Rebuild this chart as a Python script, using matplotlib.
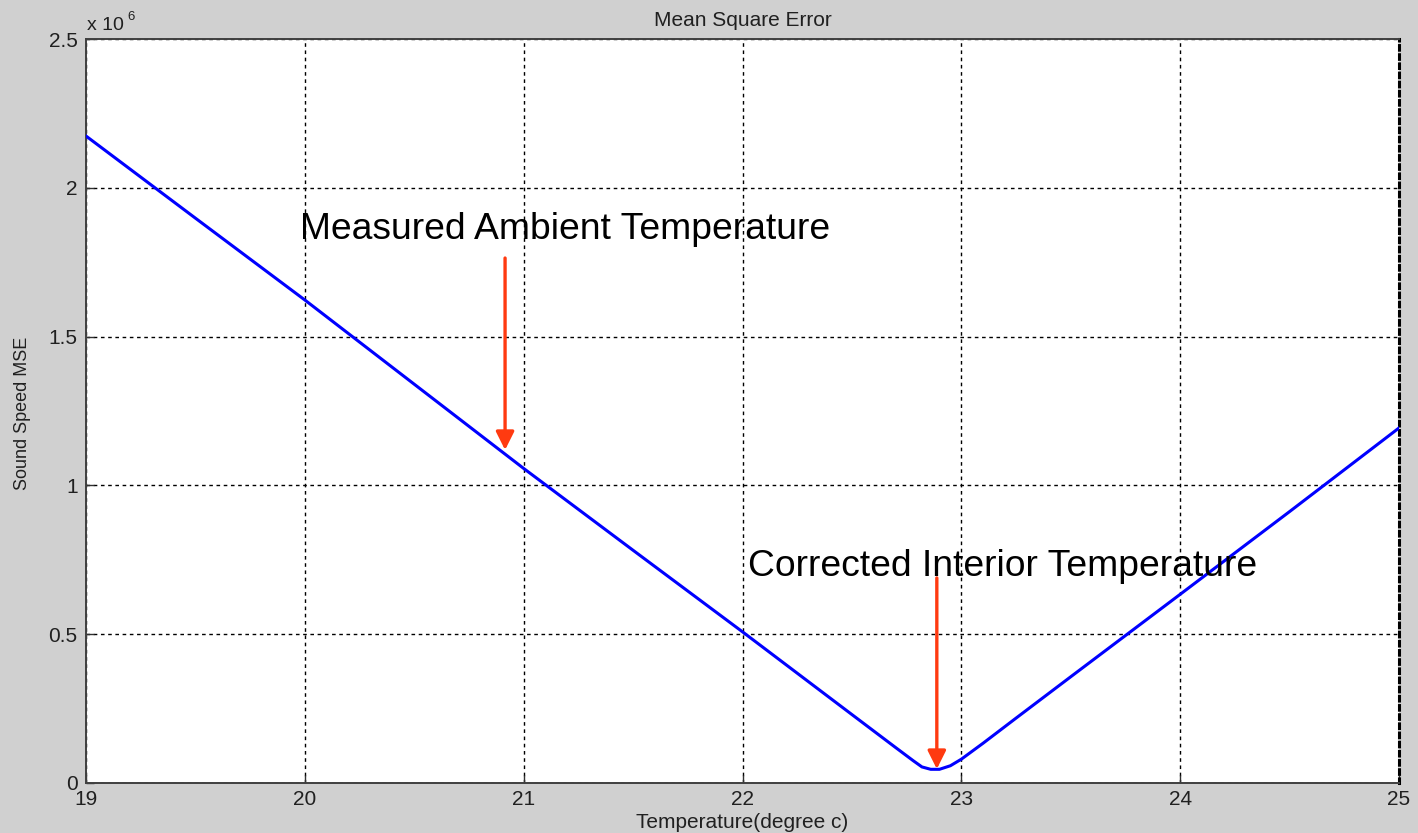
import matplotlib
matplotlib.use("Agg")
import matplotlib.pyplot as plt
from matplotlib.ticker import FuncFormatter

# ---- data ----
temperature = [19.0, 19.5, 20.0, 20.5, 21.0, 21.5, 22.0, 22.5, 22.7, 22.78,
               22.82, 22.86, 22.9, 22.95, 23.0, 23.1, 23.25, 23.5, 24.0, 24.5, 25.0]
mse = [2.174e6, 1.898e6, 1.623e6, 1.340e6, 1.057e6, 0.782e6, 0.508e6, 0.230e6,
       0.119e6, 0.075e6, 0.054e6, 0.046e6, 0.046e6, 0.058e6, 0.080e6, 0.134e6,
       0.218e6, 0.357e6, 0.634e6, 0.912e6, 1.193e6]

x_ticks = [19, 20, 21, 22, 23, 24, 25]
y_ticks = [0, 0.5e6, 1.0e6, 1.5e6, 2.0e6, 2.5e6]

title_text = "Mean Square Error"
xlabel_text = "Temperature(degree c)"
ylabel_text = "Sound Speed MSE"

ann_labels = ["Measured Ambient Temperature", "Corrected Interior Temperature"]
ann_text_pos = [(19.978, 1.828e6), (22.026, 0.697e6)]
arrow_tail = [(20.915, 1.764e6), (22.888, 0.689e6)]
arrow_tip = [(20.915, 1.119e6), (22.888, 0.047e6)]

# ---- figure ----
plt.rcParams['font.family'] = ['Liberation Sans', 'DejaVu Sans']
W, H = 1418, 833
fig = plt.figure(figsize=(W / 100, H / 100), dpi=100)
fig.patch.set_facecolor('#d0d0d0')

L, R, T, B = 86, 1399, 39, 783
ax = fig.add_axes([L / W, 1 - B / H, (R - L) / W, (B - T) / H])
ax.set_facecolor('white')

ax.plot(temperature, mse, color='#0000ff', lw=2.2, solid_joinstyle='round', zorder=3)

ax.set_xlim(19, 25)
ax.set_ylim(0, 2.5e6)
ax.set_xticks(x_ticks)
ax.set_yticks(y_ticks)
ax.yaxis.set_major_formatter(FuncFormatter(lambda v, p: "%g" % (v / 1e6)))
ax.xaxis.set_major_formatter(FuncFormatter(lambda v, p: "%g" % v))

ax.grid(True, color='black', linestyle=(0, (2.6, 2.6)), linewidth=1.0)
ax.tick_params(direction='in', length=6, width=1.0, color='#303030',
               labelsize=15, labelcolor='#202020', top=False, right=False)
ax.tick_params(axis='x', pad=5)
ax.tick_params(axis='y', pad=6)

for side in ['left', 'bottom', 'top']:
    ax.spines[side].set_color('#404040')
    ax.spines[side].set_linewidth(1.4)
ax.spines['right'].set_color('black')
ax.spines['right'].set_linewidth(2.2)
ax.spines['right'].set_linestyle((0, (1.5, 1.5)))

# annotations
for lab, tp, tail, tip in zip(ann_labels, ann_text_pos, arrow_tail, arrow_tip):
    ax.text(tp[0], tp[1], lab, fontsize=26.8, color='black', ha='left', va='baseline', zorder=4)
    ax.annotate('', xy=tip, xytext=tail,
                arrowprops=dict(arrowstyle='-|>,head_length=1.1,head_width=0.55',
                                color='#ff3a10', lw=2.4, shrinkA=0, shrinkB=0,
                                mutation_scale=10),
                zorder=5)

# titles and labels
fig.text((L + R) / 2 / W, 1 - 26 / H, title_text, fontsize=15, color='#202020',
         ha='center', va='baseline')
fig.text((L + R) / 2 / W, 1 - 828 / H, xlabel_text, fontsize=15, color='#202020',
         ha='center', va='baseline')
fig.text(23 / W, 1 - 413 / H, ylabel_text, fontsize=13, color='#202020',
         ha='center', va='center', rotation=90)
fig.text(87 / W, 1 - 30 / H, "x 10", fontsize=14, color='#202020',
         ha='left', va='baseline')
fig.text(127 / W, 1 - 11 / H, "6", fontsize=9.5, color='#202020',
         ha='left', va='top')

fig.savefig('out.png', dpi=100, facecolor=fig.get_facecolor())
